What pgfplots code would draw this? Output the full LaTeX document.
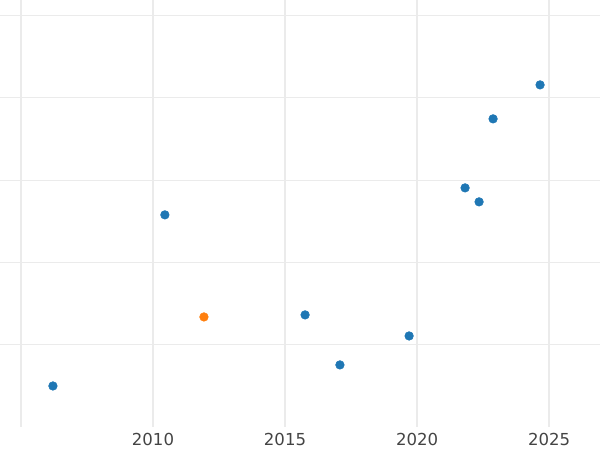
\documentclass[border=0pt]{standalone}
\usepackage{fontspec}
\setmainfont{DejaVu Sans}
\usepackage{pgfplots}
\pgfplotsset{compat=1.18}
\definecolor{cBlue}{HTML}{1F77B4}
\definecolor{cOrange}{HTML}{FF7F0E}
\definecolor{cGrid}{HTML}{EBEBEB}
\definecolor{cText}{HTML}{444444}

\begin{document}
\begin{tikzpicture}
\begin{axis}[
  at={(0pt,16.6pt)}, anchor=south west,
  scale only axis, width=432pt, height=307.4pt,
  xmin=2004.205, xmax=2026.93, ymin=0, ymax=5.19,
  axis line style={draw=none},
  major tick length=0pt,
  xtick={2005,2010,2015,2020,2025},
  xticklabels={,2010,2015,2020,2025},
  ytick={1,2,3,4,5}, yticklabels={},
  xticklabel style={font=\fontsize{11.9}{14}\selectfont, text=cText, inner sep=0pt, anchor=north, yshift=-4.3pt},
  grid=major,
  major x grid style={cGrid, line width=1.44pt},
  major y grid style={cGrid, line width=0.8pt},
  clip=false,
]
\addplot[only marks, mark=*, mark size=3.1pt, cBlue, mark options={draw=none, fill=cBlue}] coordinates {
  (2006.21,0.498) (2010.45,2.578) (2015.76,1.362) (2017.08,0.754)
  (2019.70,1.106) (2021.82,2.906) (2022.35,2.736) (2022.88,3.745)
  (2024.66,4.158)
};
\addplot[only marks, mark=*, mark size=3.1pt, cOrange, mark options={draw=none, fill=cOrange}] coordinates {
  (2011.93,1.337)
};
\end{axis}
\pgfresetboundingbox
\path (0,0) rectangle (432pt,324pt);
\end{tikzpicture}
\end{document}
